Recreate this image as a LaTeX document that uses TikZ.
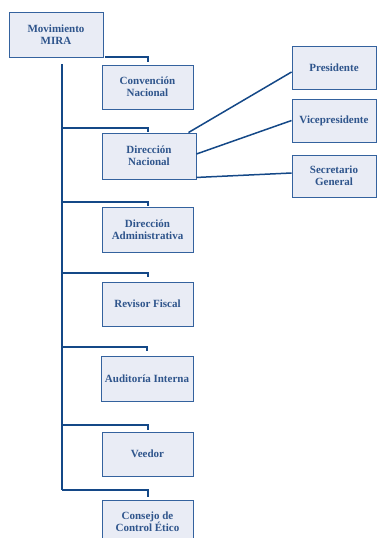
\documentclass[tikz,border=0pt]{standalone}
\usepackage{fontspec}
\setmainfont{Liberation Serif}
\definecolor{boxfill}{RGB}{233,236,245}
\definecolor{boxline}{RGB}{52,98,158}
\definecolor{txt}{RGB}{47,85,140}
\definecolor{conn}{RGB}{20,72,135}
\begin{document}
\begin{tikzpicture}[x=1pt,y=-1pt,
  orgbox/.style={draw=boxline,line width=0.9pt,fill=boxfill,text=txt,
    font=\fontsize{11}{12}\selectfont\bfseries,align=center,inner sep=0pt,
    minimum width=91pt,minimum height=44pt},
  link/.style={draw=conn,line width=2pt},
  thin link/.style={draw=conn,line width=1.5pt}]
\useasboundingbox (0,0) rectangle (377,538);
\clip (0,0) rectangle (377,538);
\node[orgbox,minimum width=94pt,minimum height=45pt] (mov) at (56,34.5) {Movimiento\\MIRA};
\node[orgbox] (conv) at (147.5,87) {Convención\\Nacional};
\node[orgbox,minimum width=94pt,minimum height=46pt] (dn) at (149,156) {Dirección\\Nacional};
\node[orgbox,minimum height=45pt] (da) at (147.5,229.5) {Dirección\\Administrativa};
\node[orgbox] (rf) at (147.5,304) {Revisor Fiscal};
\node[orgbox,minimum width=92pt,minimum height=45pt] (ai) at (147,378.5) {Auditoría Interna};
\node[orgbox] (ve) at (147.5,454) {Veedor};
\node[orgbox] (cce) at (147.5,522) {Consejo de\\Control Ético};
\node[orgbox,minimum width=84pt,minimum height=43pt] (pres) at (334,67.5) {Presidente};
\node[orgbox,minimum width=84pt,minimum height=43pt] (vice) at (334,120.5) {Vicepresidente};
\node[orgbox,minimum width=84pt,minimum height=42pt] (sec) at (334,176) {Secretario\\General};
\coordinate (ttop) at (62,64);
\coordinate (tbot) at (62,490);
% stub from Movimiento to Convencion
\draw[link] ([xshift=2pt]mov.south east) -| ([yshift=3pt]conv.north);
% trunk
\draw[link] (ttop) -- (tbot);
\draw[link] (62,128) -| ([yshift=1pt]dn.north -| conv.north);
\draw[link] (62,202) -| ([yshift=1pt]da.north);
\draw[link] (62,273) -| ([yshift=5pt]rf.north);
\draw[link] (62,347) -| ([yshift=5pt]ai.north);
\draw[link] (62,425) -| ([yshift=2pt]ve.north);
\draw[link] (tbot) -| ([yshift=3pt]cce.north);
% Direccion Nacional to officers
\draw[thin link] ([xshift=-8pt]dn.north east) -- ([yshift=-4.5pt]pres.west);
\draw[thin link] ([yshift=2pt]dn.east) -- (vice.west);
\draw[thin link] ([yshift=2pt]dn.south east) -- ([yshift=3pt]sec.west);
\end{tikzpicture}
\end{document}
